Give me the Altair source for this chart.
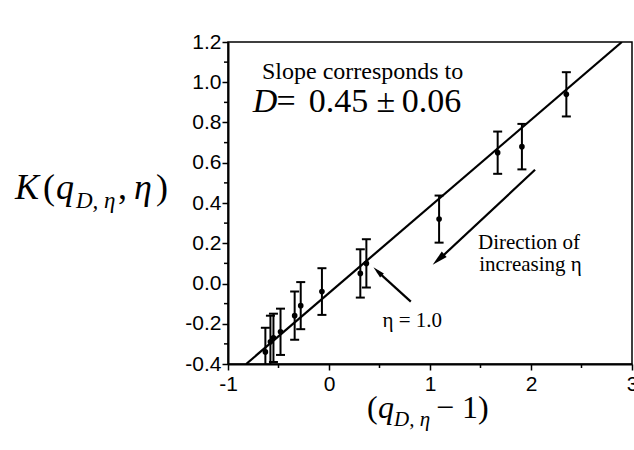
import altair as alt
import pandas as pd

# ---- data ----
q_minus_1 = [-0.63, -0.58, -0.55, -0.48, -0.34, -0.28, -0.07, 0.31, 0.37, 1.09, 1.67, 1.91, 2.35]
k_value   = [-0.34, -0.29, -0.27, -0.24, -0.16, -0.11, -0.04, 0.05, 0.10, 0.32, 0.65, 0.68, 0.94]
k_error   = [0.12, 0.13, 0.12, 0.115, 0.12, 0.117, 0.116, 0.12, 0.12, 0.117, 0.105, 0.113, 0.11]

fit_x = [-0.82, 2.90]
fit_y = [-0.40, 1.20]

x_major = [-1, 0, 1, 2, 3]
x_minor = [-0.5, 0.5, 1.5, 2.5]
y_major = [-0.4, -0.2, 0.0, 0.2, 0.4, 0.6, 0.8, 1.0, 1.2]
y_minor = [-0.3, -0.1, 0.1, 0.3, 0.5, 0.7, 0.9, 1.1]

df = pd.DataFrame({"x": q_minus_1, "y": k_value, "e": k_error})
df["lo"] = df["y"] - df["e"]
df["hi"] = df["y"] + df["e"]
fit = pd.DataFrame({"x": fit_x, "y": fit_y})

SERIF = "Liberation Serif"
SANS = "Liberation Sans"

W, H = 404, 322
LEFT, TOP = 228, 42

xs = alt.Scale(domain=[-1, 3], nice=False, zero=False)
ys = alt.Scale(domain=[-0.4, 1.2], nice=False, zero=False)

x_axis = alt.Axis(
    values=x_major, title=None, grid=False,
    labelExpr="replace(format(datum.value, 'd'), '\u2212', '-')",
    tickSize=6, labelPadding=3, labelFontSize=21, labelFont=SANS, labelColor="black",
    domainColor="black", domainWidth=2, tickColor="black", tickWidth=1.5,
    labelFlush=False, labelOverlap=False,
)
y_axis = alt.Axis(
    values=y_major, title=None, grid=False,
    labelExpr="replace(format(datum.value, '.1f'), '\u2212', '-')",
    tickSize=6, labelPadding=1, labelFontSize=21, labelFont=SANS, labelColor="black",
    domainColor="black", domainWidth=2, tickColor="black", tickWidth=1.5,
    labelFlush=False, labelOverlap=False,
)


def X(field):
    return alt.X(field, type="quantitative", scale=xs, axis=x_axis)


def Y(field):
    return alt.Y(field, type="quantitative", scale=ys, axis=y_axis)


base = alt.Chart(df)

bars = base.mark_rule(color="black", strokeWidth=2, clip=True).encode(
    x=X("x"), y=Y("lo"), y2="hi:Q")
cap_lo = base.mark_tick(color="black", orient="horizontal", size=9, thickness=2, clip=True, opacity=1).encode(
    x=X("x"), y=Y("lo"))
cap_hi = base.mark_tick(color="black", orient="horizontal", size=9, thickness=2, clip=True, opacity=1).encode(
    x=X("x"), y=Y("hi"))
pts = base.mark_circle(color="black", size=32, opacity=1).encode(x=X("x"), y=Y("y"))

fit_line = alt.Chart(fit).mark_line(color="black", strokeWidth=2.2, clip=True).encode(
    x=X("x"), y=Y("y"))

minor_y = alt.Chart(pd.DataFrame({"v": y_minor})).mark_rule(color="black", strokeWidth=1.5).encode(
    y=Y("v"), x=alt.value(-4), x2=alt.value(0))
minor_x = alt.Chart(pd.DataFrame({"v": x_minor})).mark_rule(color="black", strokeWidth=1.5).encode(
    x=X("v"), y=alt.value(H), y2=alt.value(H + 4))


def dtext(text, x, y, size, style="normal", align="left", baseline="middle"):
    d = pd.DataFrame({"x": [x], "y": [y], "t": [text]})
    return alt.Chart(d).mark_text(
        font=SERIF, fontSize=size, fontStyle=style, align=align, baseline=baseline, color="black"
    ).encode(x=X("x"), y=Y("y"), text="t:N")


def ptext(text, px, py, size, style="normal", align="left"):
    d = pd.DataFrame({"a": [0]})
    return alt.Chart(d).mark_text(
        text=text, font=SERIF, fontSize=size, fontStyle=style, align=align,
        baseline="alphabetic", color="black"
    ).encode(x=alt.value(px - LEFT), y=alt.value(py - TOP))


def arrow(x0, y0, x1, y1, hx, hy, angle, size):
    shaft = alt.Chart(pd.DataFrame({"x": [x0, x1], "y": [y0, y1]})).mark_line(
        color="black", strokeWidth=2.2).encode(x=X("x"), y=Y("y"))
    head = alt.Chart(pd.DataFrame({"x": [hx], "y": [hy]})).mark_point(
        shape="M0,-1L0.42,0.8L-0.42,0.8Z", filled=True, color="black", opacity=1,
        size=size, angle=angle).encode(x=X("x"), y=Y("y"))
    return shaft + head


layers = [
    fit_line, bars, cap_lo, cap_hi, pts, minor_y, minor_x,
    dtext("Slope corresponds to", 0.333, 1.05, 24, align="center"),
    dtext("D", -0.754, 0.90, 34, style="italic"),
    dtext("=", -0.52, 0.90, 34),
    dtext("0.45", -0.20, 0.90, 34),
    dtext("\u00b1", 0.47, 0.90, 34),
    dtext("0.06", 0.72, 0.90, 34),
    dtext("Direction of", 1.475, 0.20, 21),
    dtext("increasing \u03b7", 1.488, 0.09, 21),
    dtext("\u03b7 = 1.0", 0.53, -0.186, 21),
    arrow(2.04, 0.565, 1.09, 0.12, 1.09, 0.122, 227.6, 300),
    arrow(0.81, -0.09, 0.48, 0.06, 0.487, 0.058, 313.2, 170),
    # y-axis title  K(q_{D,eta}, eta)
    ptext("K", 15, 199, 36, style="italic"),
    ptext("(", 43, 199, 36),
    ptext("q", 56, 199, 36, style="italic"),
    ptext("D, \u03b7", 76, 208, 23, style="italic"),
    ptext(",", 118, 199, 36),
    ptext("\u03b7", 134, 199, 36, style="italic"),
    ptext(")", 156, 199, 36),
    # x-axis title  (q_{D,eta} - 1)
    ptext("(", 367, 418, 32),
    ptext("q", 378, 418, 32, style="italic"),
    ptext("D, \u03b7", 394, 426, 21, style="italic"),
    ptext("\u2212 1)", 436, 418, 32),
]

chart = alt.layer(*layers).properties(
    width=W, height=H,
    autosize=alt.AutoSizeParams(type="none"),
    padding={"left": LEFT, "top": TOP, "right": 634 - LEFT - W, "bottom": 450 - TOP - H},
    background="white",
).configure_view(stroke="black", strokeWidth=1.5).configure_axis(
    labelFont=SANS, labelFontSize=21, labelColor="black"
)

chart.save("out.html", embed_options={"renderer": "svg", "actions": False})
